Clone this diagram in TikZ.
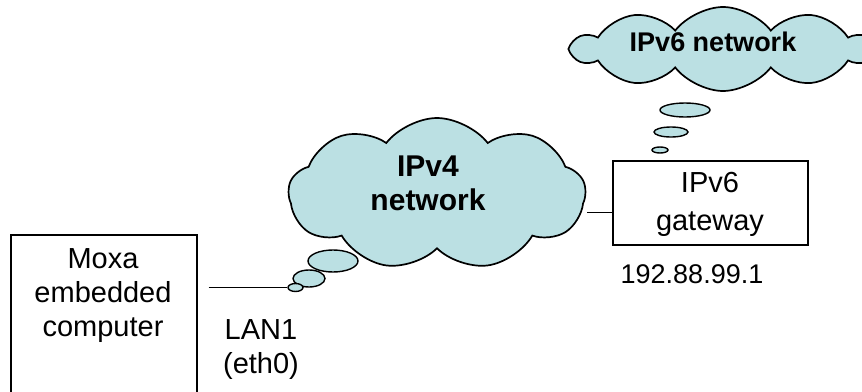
\documentclass[tikz,border=0pt]{standalone}
\usepackage{fontspec}
\setmainfont{Liberation Sans}
\usetikzlibrary{shapes,backgrounds}
\definecolor{skyblue}{RGB}{187,224,227}

\begin{document}
\begin{tikzpicture}[x=1pt,y=-1pt,line width=1.7pt]
\tikzstyle{box}=[draw=black,rectangle,inner sep=0pt]
\tikzstyle{cloudy}=[draw=black,cloud,fill=skyblue,cloud puffs=9,cloud puff arc=105,aspect=2,inner sep=0pt]
\tikzstyle{bubble}=[draw=black,ellipse,fill=skyblue,inner sep=0pt,line width=1.4pt]
\tikzstyle{txt}=[align=center,inner sep=0pt,font=\fontsize{29}{34}\selectfont]
\tikzstyle{bold}=[align=center,inner sep=0pt,font=\bfseries\fontsize{30}{34}\selectfont]
\path[use as bounding box] (0,0) rectangle (862,391);
\clip (0,0) rectangle (862,391);
% computer and gateway
\node[box,minimum width=186,minimum height=170,anchor=north west](moxa) at (10,234){};
\node[txt](moxatext) at (103,296){Moxa\\embedded\\computer};
\node[box,minimum width=195,minimum height=84,anchor=north west](gw) at (612,160){};
\node[txt,font=\fontsize{29}{38}\selectfont](gwtext) at (710,204){IPv6\\gateway};
\node[txt,font=\fontsize{27}{32}\selectfont](ip) at (692,274){192.88.99.1};
\node[txt](lan) at (261,350){LAN1\\(eth0)};
% clouds
\node[cloudy,minimum width=297,minimum height=152](v4) at (437,194){};
\node[bold](v4text) at (428,183){IPv4\\network};
\node[bubble,minimum width=50,minimum height=22](b3) at (333,261){};
\node[bubble,minimum width=32,minimum height=17](b2) at (309,278.5){};
\node[bubble,minimum width=15,minimum height=8](b1) at (295.5,287.5){};
\node[cloudy,cloud puffs=10,minimum width=300,minimum height=84](v6) at (723,49){};
\node[bold,font=\bfseries\fontsize{27}{32}\selectfont](v6text) at (713,42){IPv6 network};
\node[bubble,minimum width=50,minimum height=14](c1) at (685,110){};
\node[bubble,minimum width=34,minimum height=10](c2) at (671,132){};
\node[bubble,minimum width=16,minimum height=6](c3) at (660,150){};
% links
\coordinate (gwport) at ([yshift=-9pt]gw.west);
\begin{scope}[on background layer]
\draw[shorten <=11pt] (moxa.east |- b1) -- (b1.west);
\draw (gwport) -- (v4.east |- gwport);
\end{scope}
\end{tikzpicture}
\end{document}
